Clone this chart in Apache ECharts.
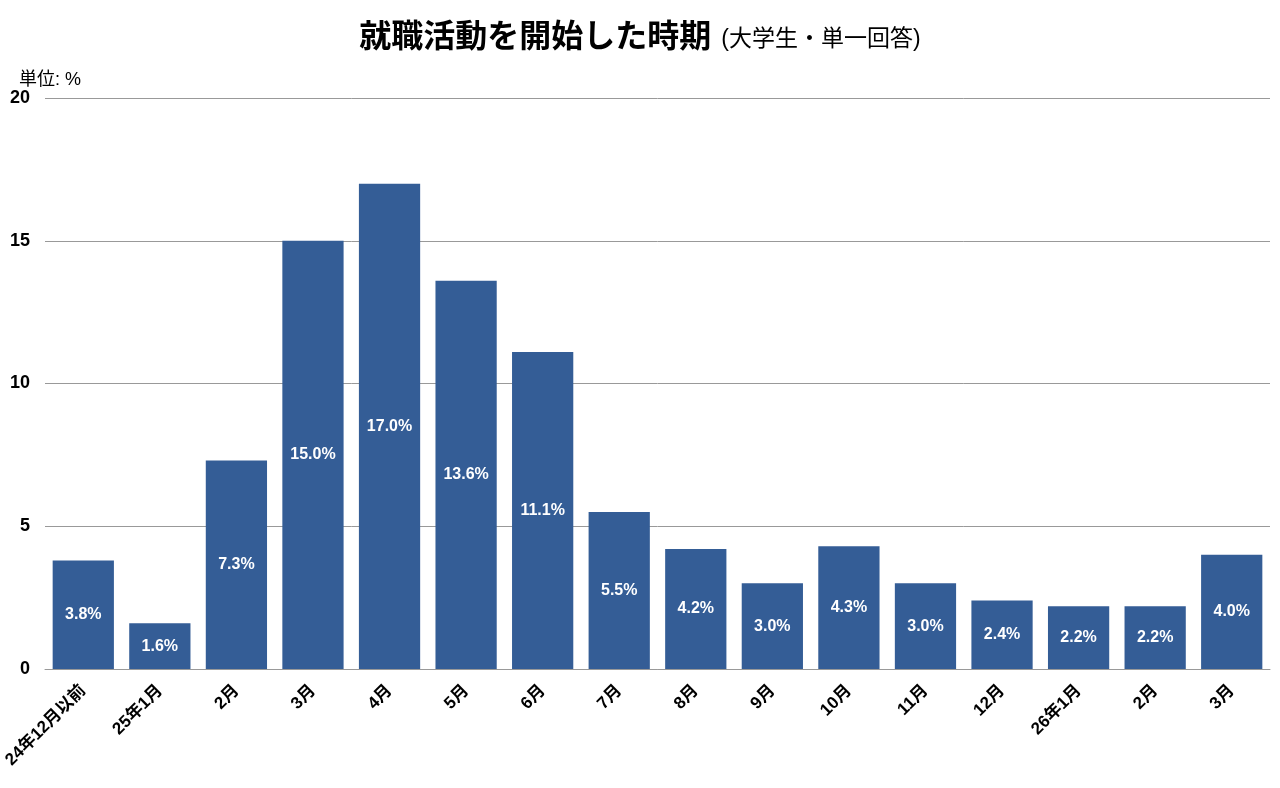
<!DOCTYPE html>
<html><head><meta charset="utf-8">
<script src="https://cdn.jsdelivr.net/npm/echarts@6/dist/echarts.min.js"></script>
<style>html,body{margin:0;padding:0;background:#fff}#c{width:1280px;height:788px}</style>
</head><body><div id="c"></div>
<script>
const categories = ['24年12月以前','25年1月','2月','3月','4月','5月','6月','7月','8月','9月','10月','11月','12月','26年1月','2月','3月'];
const values = [3.8,1.6,7.3,15.0,17.0,13.6,11.1,5.5,4.2,3.0,4.3,3.0,2.4,2.2,2.2,4.0];
const yTicks = [0,5,10,15,20];
const FONT = '"Liberation Sans", "Noto Sans CJK JP", sans-serif';
const chart = echarts.init(document.getElementById('c'));
chart.setOption({
  animation:false,
  textStyle:{fontFamily:FONT},
  title:[{
    text:'{a|就職活動を開始した時期}{b|(大学生・単一回答)}',
    left:'center', top:17,
    textStyle:{rich:{
      a:{fontSize:32,fontWeight:'bold',color:'#000',fontFamily:FONT},
      b:{fontSize:23,fontWeight:'normal',color:'#000',fontFamily:FONT,padding:[4,0,0,10]}
    }}
  },{
    text:'単位: %', left:14, top:66,
    textStyle:{fontSize:18,fontWeight:'normal',color:'#000',fontFamily:FONT}
  }],
  grid:{left:45,right:10,top:98,bottom:119,containLabel:false},
  xAxis:{type:'category',data:categories,
    axisLine:{show:true,lineStyle:{color:'#999'}},axisTick:{show:false},
    axisLabel:{rotate:45,interval:0,fontSize:17,fontWeight:'bold',color:'#000',margin:19,fontFamily:FONT}},
  yAxis:{type:'value',min:0,max:20,interval:5,
    axisLine:{show:false},axisTick:{show:false},
    splitLine:{lineStyle:{color:'#999',width:1}},
    axisLabel:{fontSize:18,fontWeight:'bold',color:'#000',margin:15,verticalAlign:'middle',padding:[0,0,8,0],fontFamily:FONT,
      formatter:v=>yTicks.includes(v)?String(v):''}},
  series:[{type:'bar',data:values,barCategoryGap:'20%',
    itemStyle:{color:'#345d96'},
    label:{show:true,position:'inside',color:'#fff',fontSize:16,fontWeight:'bold',fontFamily:FONT,
      formatter:p=>p.value.toFixed(1)+'%'}}]
});
</script></body></html>
